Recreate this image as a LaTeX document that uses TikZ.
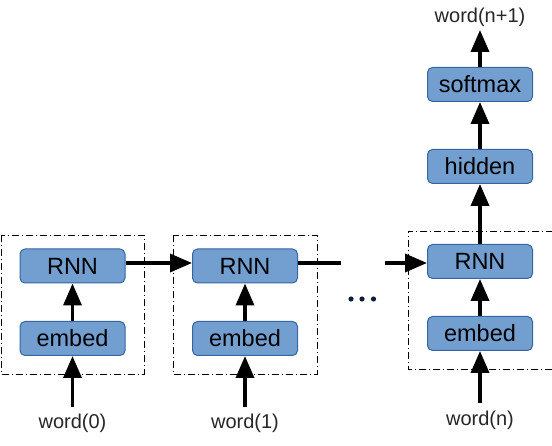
\documentclass[tikz,border=0pt]{standalone}
\usepackage{fontspec}
\setmainfont{Liberation Sans}
\usetikzlibrary{arrows.meta}
\definecolor{boxfill}{HTML}{729FCF}
\definecolor{boxdraw}{HTML}{3465A4}
\definecolor{dotcol}{HTML}{0B1E3A}
\begin{document}
\begin{tikzpicture}[x=1pt,y=-1pt,
  blk/.style={draw=boxdraw,fill=boxfill,line width=1pt,rounded corners=5pt,
    minimum width=105pt,minimum height=34pt,inner sep=0pt,
    font=\fontsize{23.5}{25}\selectfont},
  lbl/.style={inner sep=0pt,font=\fontsize{20}{22}\selectfont,text=black!85},
  arr/.style={line width=3.5pt,-{Triangle[length=22pt,width=18pt]}},
  ln/.style={line width=3.5pt},
  frame/.style={line width=0.9pt,dash pattern=on 7pt off 3pt on 1pt off 3pt}]
\useasboundingbox (0,0) rectangle (552,446);
% frames
\draw[frame] (1,235) rectangle (144,374);
\draw[frame] (173,235) rectangle (317,374);
\draw[frame] (553,231) -- (408,231) -- (408,369) -- (553,369);
% column 1
\node[blk] (rnn1) at (72.5,266) {RNN};
\node[blk] (emb1) at (72.5,338.5) {embed};
\node[lbl] (w0) at (72.5,423) {word(0)};
% column 2
\node[blk] (rnn2) at (245,266) {RNN};
\node[blk] (emb2) at (245,338.5) {embed};
\node[lbl] (w1) at (245,423) {word(1)};
% column 3
\node[blk] (rnn3) at (480,261.5) {RNN};
\node[blk] (emb3) at (480,333.5) {embed};
\node[lbl] (wn) at (480,420) {word(n)};
\node[blk] (hid) at (480,166.5) {hidden};
\node[blk] (soft) at (480,84.5) {softmax};
\node[lbl] (wn1) at (480,17) {word(n+1)};
% connectors
\coordinate (s0) at (72.5,407);
\coordinate (s1) at (245,407);
\coordinate (sn) at (480,403);
\coordinate (t1) at (341,263);
\coordinate (t2) at (385,263);
\coordinate (top) at (480,30);
\draw[arr] (s0) -- (emb1.south);
\draw[arr] (emb1) -- (rnn1);
\draw[arr] (s1) -- (emb2.south);
\draw[arr] (emb2) -- (rnn2);
\draw[arr] (sn) -- (emb3.south);
\draw[arr] (emb3) -- (rnn3);
\draw[arr] (rnn3) -- (hid);
\draw[arr] (hid) -- (soft);
\draw[arr] (soft) -- (top);
\draw[arr] (rnn1.east |- 0,263) -- (rnn2.west |- 0,263);
\draw[ln] (rnn2.east |- t1) -- (t1);
\draw[arr] (t2) -- (rnn3.west |- t2);
% dots
\foreach \x in {351,362,373.5} \fill[dotcol] (\x,299) circle (2.6pt);
\end{tikzpicture}
\end{document}
